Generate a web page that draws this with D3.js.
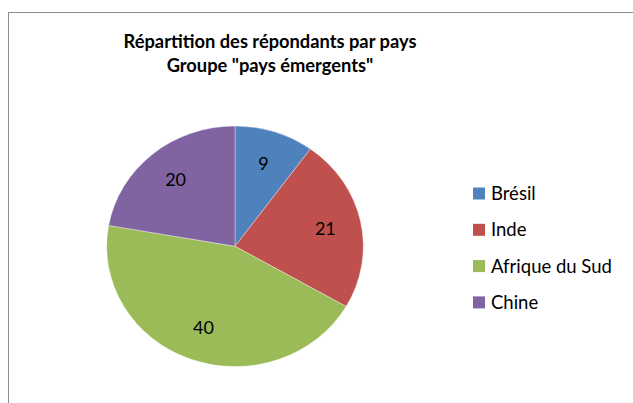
<!DOCTYPE html>
<html>
<head>
<meta charset="utf-8">
<script src="https://cdn.jsdelivr.net/npm/d3@7"></script>
<style>
  html, body { margin: 0; padding: 0; background: #fff; }
  svg { display: block; }
</style>
</head>
<body>
<div id="chart"></div>
<script>
// Data
const categories = ['Brésil', 'Inde', 'Afrique du Sud', 'Chine'];
const values = [9, 21, 40, 20];
const colors = ['#4f81bd', '#c0504d', '#9bbb59', '#8064a2'];
const titleLines = ['Répartition des répondants par pays', 'Groupe "pays émergents"'];

const W = 633, H = 403;
const font = 'Lato, "Open Sans", sans-serif';

const svg = d3.select('#chart').append('svg')
    .attr('width', W)
    .attr('height', H);

// chart area border (runs off the right and bottom edges)
svg.append('rect')
    .attr('x', 8.5).attr('y', 12.5)
    .attr('width', 800).attr('height', 600)
    .attr('fill', '#fff')
    .attr('stroke', '#8c8c8c')
    .attr('stroke-width', 1);

// Title
const title = svg.append('text')
    .attr('text-anchor', 'middle')
    .attr('font-family', font)
    .attr('font-weight', 'bold')
    .attr('font-size', '18.3px')
    .attr('fill', '#000');
titleLines.forEach((t, i) => {
    title.append('tspan')
        .attr('x', 270)
        .attr('y', 48 + i * 24)
        .text(t);
});

// Pie (slightly stretched horizontally, as in the reference)
const cx = 235, cy = 246.3;
const ry = 120.3, rx = 128.3;
const sx = rx / ry;

const pie = d3.pie().sort(null).value(d => d);
const arcs = pie(values);
const arc = d3.arc().innerRadius(0).outerRadius(ry);
const labelArc = d3.arc().innerRadius(ry * 0.72).outerRadius(ry * 0.72);

const pieG = svg.append('g')
    .attr('transform', `translate(${cx},${cy}) scale(${sx},1)`);

pieG.selectAll('path')
    .data(arcs)
    .join('path')
    .attr('d', arc)
    .attr('fill', (d, i) => colors[i])
    .attr('stroke', '#ffffff')
    .attr('stroke-opacity', 0.45)
    .attr('stroke-width', 0.8)
    .attr('vector-effect', 'non-scaling-stroke');

// Data labels (placed outside the scaled group so the text is not stretched)
svg.append('g')
    .selectAll('text')
    .data(arcs)
    .join('text')
    .attr('x', d => cx + labelArc.centroid(d)[0] * sx)
    .attr('y', d => cy + labelArc.centroid(d)[1])
    .attr('dy', '0.35em')
    .attr('text-anchor', 'middle')
    .attr('font-family', font)
    .attr('font-size', '18px')
    .attr('fill', '#000')
    .text(d => d.data);

// Legend
const legendX = 473, legendY0 = 193.5, legendStep = 36.3, sw = 12;
const legend = svg.append('g');
const items = legend.selectAll('g')
    .data(categories)
    .join('g')
    .attr('transform', (d, i) => `translate(${legendX},${legendY0 + i * legendStep})`);

items.append('rect')
    .attr('x', 0).attr('y', -sw / 2)
    .attr('width', sw).attr('height', sw)
    .attr('fill', (d, i) => colors[i]);

items.append('text')
    .attr('x', 18)
    .attr('dy', '0.36em')
    .attr('font-family', font)
    .attr('font-size', '18.5px')
    .attr('fill', '#000')
    .text(d => d);
</script>
</body>
</html>
